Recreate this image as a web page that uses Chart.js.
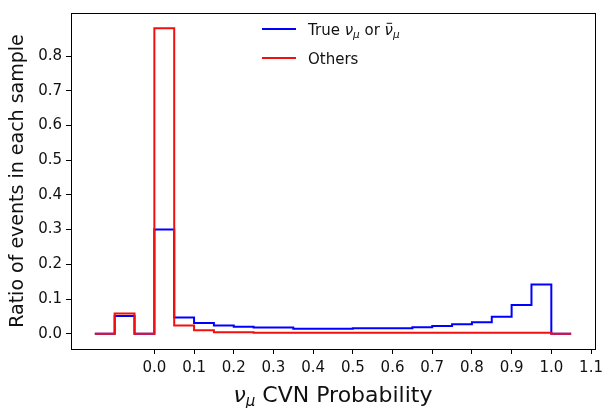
<!DOCTYPE html>
<html>
<head>
<meta charset="utf-8">
<script src="https://cdn.jsdelivr.net/npm/chart.js@4.4.1/dist/chart.umd.min.js"></script>
<style>
  body { margin: 0; background: #fff; }
  #chart { display: block; }
</style>
</head>
<body>
<canvas id="chart" width="608" height="408"></canvas>
<script>
// histogram bin edges (left edges + final right edge)
const binEdges = [-0.15, -0.10, -0.05, 0.00, 0.05, 0.10, 0.15, 0.20, 0.25, 0.30, 0.35, 0.40,
                  0.45, 0.50, 0.55, 0.60, 0.65, 0.70, 0.75, 0.80, 0.85, 0.90, 0.95, 1.00, 1.05];

// fraction of events per bin
const trueNumu = [0, 0.051, 0, 0.300, 0.047, 0.031, 0.024, 0.020, 0.018, 0.018, 0.014, 0.014,
                  0.014, 0.016, 0.016, 0.016, 0.019, 0.022, 0.027, 0.033, 0.049, 0.083, 0.142, 0];
const others   = [0, 0.058, 0, 0.880, 0.024, 0.010, 0.004, 0.004, 0.003, 0.003, 0.003, 0.003,
                  0.003, 0.003, 0.003, 0.003, 0.003, 0.003, 0.003, 0.003, 0.003, 0.003, 0.003, 0];

const xTicks = [0.0, 0.1, 0.2, 0.3, 0.4, 0.5, 0.6, 0.7, 0.8, 0.9, 1.0, 1.1];
const yTicks = [0.0, 0.1, 0.2, 0.3, 0.4, 0.5, 0.6, 0.7, 0.8];

const FONT = '"DejaVu Sans", sans-serif';

// step outline: each bin value sits on its left edge, last edge repeats the last value
function toSteps(values) {
    return binEdges.map(function(x, i) {
        return { x: x, y: i < values.length ? values[i] : values[values.length - 1] };
    });
}

// draws a run of text pieces (normal / italic / subscript / barred)
function drawRich(ctx, x, y, parts, align) {
    let total = 0;
    parts.forEach(function(p) {
        ctx.font = (p.italic ? 'italic ' : '') + p.size + 'px ' + FONT;
        p.w = ctx.measureText(p.t).width;
        total += p.w;
    });
    let cx = align === 'center' ? x - total / 2 : x;
    ctx.textAlign = 'left';
    ctx.textBaseline = 'alphabetic';
    parts.forEach(function(p) {
        ctx.font = (p.italic ? 'italic ' : '') + p.size + 'px ' + FONT;
        ctx.fillText(p.t, cx, y + (p.dy || 0));
        if (p.bar) {
            ctx.fillRect(cx + p.w * 0.25, y - p.size * 0.78, p.w * 0.65, 1);
        }
        cx += p.w;
    });
}

const decorations = {
    id: 'decorations',
    afterDatasetsDraw(chart) {
        const ctx = chart.ctx;
        const a = chart.chartArea;
        ctx.save();
        ctx.strokeStyle = '#000';
        ctx.lineWidth = 1;
        ctx.strokeRect(Math.round(a.left) + 0.5, Math.round(a.top) + 0.5,
                       Math.round(a.right - a.left), Math.round(a.bottom - a.top));
        ctx.restore();
    },
    afterDraw(chart) {
        const ctx = chart.ctx;
        const a = chart.chartArea;
        ctx.save();
        ctx.fillStyle = '#111';

        // y title
        ctx.save();
        ctx.translate(18, (a.top + a.bottom) / 2);
        ctx.rotate(-Math.PI / 2);
        ctx.font = '19px ' + FONT;
        ctx.textAlign = 'center';
        ctx.textBaseline = 'middle';
        ctx.fillText('Ratio of events in each sample', 0, 0);
        ctx.restore();

        // x title
        drawRich(ctx, (a.left + a.right) / 2, 402, [
            { t: 'ν', size: 22, italic: true },
            { t: 'μ', size: 15, italic: true, dy: 4 },
            { t: ' CVN Probability', size: 22 }
        ], 'center');

        // legend
        const entries = [
            { color: '#0000ff', y: 29, parts: [
                { t: 'True ', size: 15 },
                { t: 'ν', size: 15, italic: true },
                { t: 'μ', size: 10.5, italic: true, dy: 3 },
                { t: ' or ', size: 15 },
                { t: 'ν', size: 15, italic: true, bar: true },
                { t: 'μ', size: 10.5, italic: true, dy: 3 }
            ] },
            { color: '#f01010', y: 58, parts: [{ t: 'Others', size: 15 }] }
        ];
        entries.forEach(function(e) {
            ctx.strokeStyle = e.color;
            ctx.lineWidth = 2;
            ctx.beginPath();
            ctx.moveTo(262, e.y);
            ctx.lineTo(296, e.y);
            ctx.stroke();
            ctx.fillStyle = '#111';
            drawRich(ctx, 308, e.y + 5.5, e.parts, 'left');
        });
        ctx.restore();
    }
};

new Chart(document.getElementById('chart'), {
    type: 'line',
    data: {
        datasets: [
            {
                label: 'True numu or numubar',
                data: toSteps(trueNumu),
                borderColor: '#0000ff',
                borderWidth: 2,
                stepped: true,
                pointRadius: 0,
                fill: false,
                order: 1
            },
            {
                label: 'Others',
                data: toSteps(others),
                borderColor: '#f01010',
                borderWidth: 2,
                stepped: true,
                pointRadius: 0,
                fill: false,
                order: 0
            }
        ]
    },
    options: {
        responsive: false,
        animation: false,
        events: [],
        layout: { padding: { top: 5, right: 8, left: 0, bottom: 0 } },
        plugins: {
            legend: { display: false },
            tooltip: { enabled: false }
        },
        scales: {
            x: {
                type: 'linear',
                min: -0.21,
                max: 1.11,
                afterBuildTicks: function(scale) {
                    scale.ticks = xTicks.map(v => ({ value: v }));
                },
                afterFit: function(scale) { scale.height = 59; },
                ticks: {
                    autoSkip: false,
                    maxRotation: 0,
                    padding: 5,
                    color: '#111',
                    font: { family: FONT, size: 15 },
                    callback: v => v.toFixed(1)
                },
                grid: { drawOnChartArea: false, tickLength: 5, color: '#000' },
                border: { color: '#000' }
            },
            y: {
                min: -0.044,
                max: 0.924,
                afterBuildTicks: function(scale) {
                    scale.ticks = yTicks.map(v => ({ value: v }));
                },
                afterFit: function(scale) { scale.width = 71; },
                ticks: {
                    autoSkip: false,
                    padding: 4,
                    color: '#111',
                    font: { family: FONT, size: 15 },
                    callback: v => v.toFixed(1)
                },
                grid: { drawOnChartArea: false, tickLength: 5, color: '#000' },
                border: { color: '#000' }
            }
        }
    },
    plugins: [decorations]
});
</script>
</body>
</html>
